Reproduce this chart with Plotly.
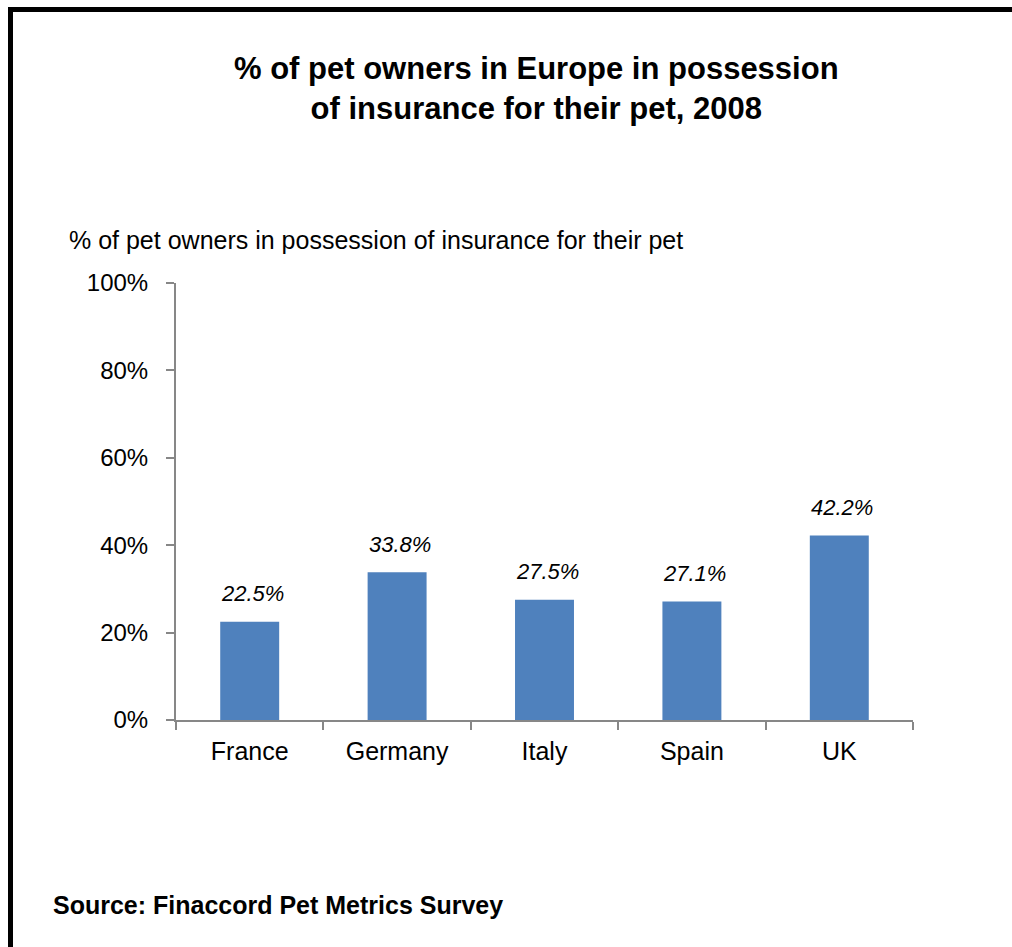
import plotly.graph_objects as go

countries = ["France", "Germany", "Italy", "Spain", "UK"]
values = [22.5, 33.8, 27.5, 27.1, 42.2]
labels = ["22.5%", "33.8%", "27.5%", "27.1%", "42.2%"]
ytick_vals = [0, 20, 40, 60, 80, 100]
ytick_text = ["0%", "20%", "40%", "60%", "80%", "100%"]

W, H = 1012, 947
L, R, T, B = 176, 99, 283, 227
PW, PH = W - L - R, H - T - B

def px_x(x):
    return (x - L) / PW

def px_y(y):
    return (H - B - y) / PH

FONT = "Liberation Sans, Arial, sans-serif"
AXC = "#878787"

fig = go.Figure()
fig.add_trace(go.Bar(x=countries, y=values, width=0.4,
                     marker=dict(color="#4f81bd", line=dict(width=0)),
                     hoverinfo="skip"))

annotations = []
for c, v, t in zip(countries, values, labels):
    annotations.append(dict(x=c, y=v, xref="x", yref="y", text="<i>" + t + "</i>",
                            showarrow=False, yshift=28, xshift=3,
                            font=dict(family=FONT, size=22, color="#000")))

annotations.append(dict(x=px_x(536), y=px_y(88), xref="paper", yref="paper",
                        text="<b>% of pet owners in Europe in possession<br>of insurance for their pet, 2008</b>",
                        showarrow=False, xanchor="center", yanchor="middle",
                        font=dict(family=FONT, size=31, color="#000")))
annotations.append(dict(x=px_x(67), y=px_y(240), xref="paper", yref="paper",
                        text="% of pet owners in possession of insurance for their pet",
                        showarrow=False, xanchor="left", yanchor="middle",
                        font=dict(family=FONT, size=25, color="#000")))
annotations.append(dict(x=px_x(51), y=px_y(905), xref="paper", yref="paper",
                        text="<b>Source: Finaccord Pet Metrics Survey</b>",
                        showarrow=False, xanchor="left", yanchor="middle",
                        font=dict(family=FONT, size=25, color="#000")))

shapes = [
    dict(type="line", xref="paper", yref="paper", x0=px_x(168), x1=px_x(176),
         y0=0, y1=0, line=dict(color=AXC, width=2)),
    dict(type="line", xref="paper", yref="paper", x0=px_x(10.5), x1=px_x(10.5),
         y0=px_y(7), y1=px_y(950), line=dict(color="#000", width=5)),
    dict(type="line", xref="paper", yref="paper", x0=px_x(8), x1=px_x(1015),
         y0=px_y(9.5), y1=px_y(9.5), line=dict(color="#000", width=5)),
]

fig.update_layout(
    width=W, height=H,
    margin=dict(l=L, r=R, t=T, b=B, pad=0),
    paper_bgcolor="white", plot_bgcolor="white",
    showlegend=False,
    font=dict(family=FONT, size=24, color="#000"),
    xaxis=dict(type="category", range=[-0.5, 4.5], showline=True, linecolor=AXC,
               linewidth=2, ticks="outside", tickson="boundaries", ticklen=8,
               tickcolor=AXC, tickwidth=2, showgrid=False, zeroline=False,
               ticklabelstandoff=8,
               tickfont=dict(family=FONT, size=25, color="#000")),
    yaxis=dict(range=[0, 100], tickvals=ytick_vals, ticktext=ytick_text,
               showline=True, linecolor=AXC, linewidth=2, ticks="outside",
               ticklen=8, tickcolor=AXC, tickwidth=2, showgrid=False,
               zeroline=False, ticklabelstandoff=13,
               tickfont=dict(family=FONT, size=24, color="#000")),
    annotations=annotations,
    shapes=shapes,
)

fig.write_html("out.html")
